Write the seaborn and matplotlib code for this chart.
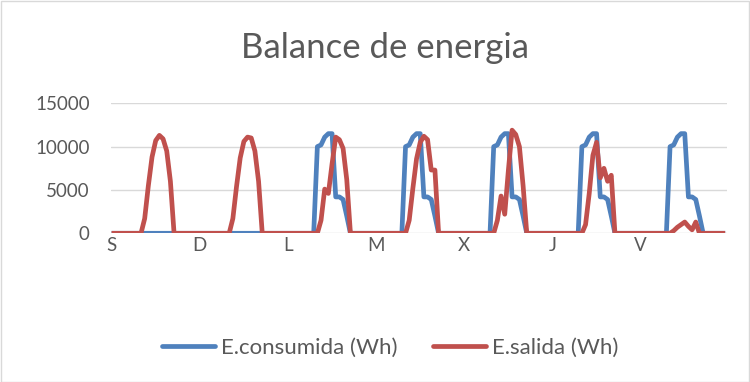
import matplotlib
matplotlib.use("Agg")
import matplotlib.pyplot as plt
import seaborn as sns
import pandas as pd
import numpy as np
from matplotlib.lines import Line2D
from matplotlib.patches import Rectangle

# Day labels (Saturday .. Friday), one reading per hour
dias = ["S", "D", "L", "M", "X", "J", "V"]

# Consumed energy per hour (Wh)
consumida_S = [0, 0, 0, 0, 0, 0, 0, 0, 0, 0, 0, 0, 0, 0, 0, 0, 0, 0, 0, 0, 0, 0, 0, 0]
consumida_D = [0, 0, 0, 0, 0, 0, 0, 0, 0, 0, 0, 0, 0, 0, 0, 0, 0, 0, 0, 0, 0, 0, 0, 0]
consumida_L = [0, 0, 0, 0, 0, 0, 0, 0, 10000, 10200, 11100, 11500, 11500, 4200, 4200, 3900, 2000, 0, 0, 0, 0, 0, 0, 0]
consumida_M = [0, 0, 0, 0, 0, 0, 0, 0, 10000, 10200, 11100, 11500, 11500, 4200, 4200, 3900, 2000, 0, 0, 0, 0, 0, 0, 0]
consumida_X = [0, 0, 0, 0, 0, 0, 0, 0, 10000, 10200, 11100, 11500, 11500, 4200, 4200, 3900, 2000, 0, 0, 0, 0, 0, 0, 0]
consumida_J = [0, 0, 0, 0, 0, 0, 0, 0, 10000, 10200, 11100, 11500, 11500, 4200, 4200, 3900, 2000, 0, 0, 0, 0, 0, 0, 0]
consumida_V = [0, 0, 0, 0, 0, 0, 0, 0, 10000, 10200, 11100, 11500, 11500, 4200, 4200, 3900, 2000, 0, 0, 0, 0, 0, 0, 0]

# Output energy per hour (Wh)
salida_S = [0, 0, 0, 0, 0, 0, 0, 0, 0, 1700, 5500, 8800, 10700, 11300, 10900, 9500, 6000, 0, 0, 0, 0, 0, 0, 0]
salida_D = [0, 0, 0, 0, 0, 0, 0, 0, 0, 1700, 5400, 8700, 10600, 11100, 11000, 9500, 6000, 0, 0, 0, 0, 0, 0, 0]
salida_L = [0, 0, 0, 0, 0, 0, 0, 0, 0, 1500, 5100, 4600, 8000, 11100, 10800, 9800, 6200, 0, 0, 0, 0, 0, 0, 0]
salida_M = [0, 0, 0, 0, 0, 0, 0, 0, 0, 1500, 5200, 8600, 10500, 11200, 10800, 7300, 7300, 0, 0, 0, 0, 0, 0, 0]
salida_X = [0, 0, 0, 0, 0, 0, 0, 0, 0, 1500, 4300, 2200, 7300, 11900, 11400, 10000, 5500, 0, 0, 0, 0, 0, 0, 0]
salida_J = [0, 0, 0, 0, 0, 0, 0, 0, 0, 1000, 4600, 9000, 10500, 6400, 7500, 6000, 6700, 0, 0, 0, 0, 0, 0, 0]
salida_V = [0, 0, 0, 0, 0, 0, 0, 0, 0, 300, 700, 1000, 1300, 800, 400, 1300, 0, 0, 0, 0, 0, 0, 0, 0]

serie_consumida = "E.consumida (Wh)"
serie_salida = "E.salida (Wh)"
y_ticks = [0, 5000, 10000, 15000]

consumida = (consumida_S + consumida_D + consumida_L + consumida_M
             + consumida_X + consumida_J + consumida_V)
salida = (salida_S + salida_D + salida_L + salida_M
          + salida_X + salida_J + salida_V)
horas = np.arange(len(consumida))

df = pd.concat([
    pd.DataFrame({"hora": horas, "Wh": consumida, "serie": serie_consumida}),
    pd.DataFrame({"hora": horas, "Wh": salida, "serie": serie_salida}),
], ignore_index=True)

azul = "#4F81BD"
rojo = "#C0504D"
gris_txt = "#595959"
gris_lin = "#D9D9D9"
grosor = 3.4

sns.set_theme(style="white")
plt.rcParams["font.family"] = ["Lato", "DejaVu Sans"]

W, H = 750, 382
fig = plt.figure(figsize=(W / 100, H / 100), dpi=100)
ax = fig.add_axes([110.7 / W, 1 - 233.3 / H, (727 - 110.7) / W, (233.3 - 103.3) / H])

for y in y_ticks:
    ax.axhline(y, color=gris_lin, lw=1.0, zorder=0)

sns.lineplot(data=df, x="hora", y="Wh", hue="serie",
             palette={serie_consumida: azul, serie_salida: rojo},
             linewidth=grosor, ax=ax, legend=False, estimator=None,
             solid_joinstyle="round", solid_capstyle="butt")

ax.set_ylim(0, 15000)
ax.set_xlim(-0.25, len(horas) - 0.5)
ax.set_yticks(y_ticks)
ax.set_yticklabels([str(v) for v in y_ticks])
ax.set_xticks(np.arange(0, len(horas), 24))
ax.set_xticklabels(dias)
ax.tick_params(axis="both", length=0, labelsize=13.5, labelcolor=gris_txt)
ax.tick_params(axis="y", pad=15)
ax.tick_params(axis="x", pad=3)
ax.set_xlabel("")
ax.set_ylabel("")
for s in ax.spines.values():
    s.set_visible(False)

fig.text(385 / W, 1 - 48 / H, "Balance de energia", ha="center", va="center",
         fontsize=25, color=gris_txt)

handles = [Line2D([0], [0], color=azul, lw=grosor, solid_capstyle="round"),
           Line2D([0], [0], color=rojo, lw=grosor, solid_capstyle="round")]
fig.legend(handles, [serie_consumida, serie_salida], loc="center",
           bbox_to_anchor=(390 / W, 1 - 348 / H), ncol=2, frameon=False,
           fontsize=16, labelcolor=gris_txt, handlelength=2.4,
           handletextpad=0.25, columnspacing=1.6)

fig.add_artist(Rectangle((0.5 / W, 0.5 / H), 1 - 1.5 / W, 1 - 1.5 / H,
                         transform=fig.transFigure, fill=False,
                         edgecolor=gris_lin, lw=1.0))

fig.savefig("out.png", dpi=100)
